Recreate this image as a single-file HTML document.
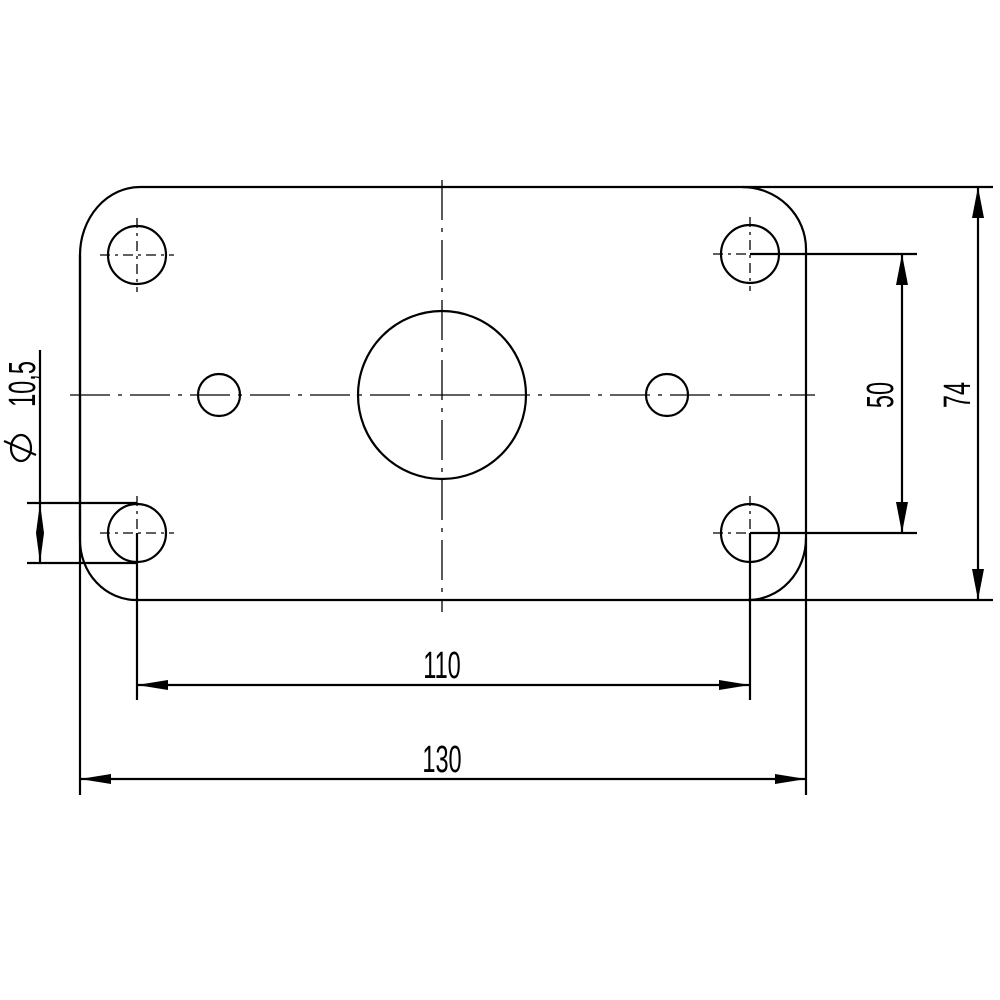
<!DOCTYPE html>
<html><head><meta charset="utf-8"><style>html,body{margin:0;padding:0;background:#fff}svg{display:block}</style></head>
<body>
<svg width="1000" height="1000" viewBox="0 0 1000 1000" xmlns="http://www.w3.org/2000/svg">
<g fill="none" stroke="#000" stroke-width="2.2">
<!-- plate outline -->
<path d="M140,187 L742,187 A64,62 0 0 1 806,249 L806,538 A58,62 0 0 1 748,600 L136,600 A56,60 0 0 1 80,540 L80,255 A60,68 0 0 1 140,187"/>
<line x1="80" y1="255" x2="80" y2="795"/>
<line x1="806" y1="538" x2="806" y2="795"/>
<!-- holes -->
<circle cx="137" cy="255" r="29"/>
<circle cx="750" cy="254" r="29"/>
<circle cx="137" cy="533" r="29"/>
<circle cx="750" cy="533" r="29"/>
<circle cx="219" cy="395" r="21"/>
<circle cx="667" cy="395" r="21"/>
<circle cx="442" cy="395" r="84"/>
<!-- extension lines -->
<line x1="742" y1="187" x2="993" y2="187"/>
<line x1="748" y1="600" x2="993" y2="600"/>
<line x1="750" y1="254" x2="917" y2="254"/>
<line x1="750" y1="533" x2="917" y2="533"/>
<line x1="137" y1="533" x2="137" y2="700"/>
<line x1="750" y1="533" x2="750" y2="700"/>
<line x1="27" y1="503" x2="137" y2="503"/>
<line x1="27" y1="563" x2="137" y2="563"/>
<!-- dimension lines -->
<line x1="978" y1="187" x2="978" y2="600"/>
<line x1="902" y1="254" x2="902" y2="533"/>
<line x1="137" y1="685" x2="750" y2="685"/>
<line x1="80" y1="779" x2="806" y2="779"/>
<line x1="40" y1="350" x2="40" y2="563"/>
</g>
<g stroke="#000" stroke-width="1.3" fill="none">
<!-- centerlines -->
<line x1="70" y1="395" x2="815" y2="395" stroke-dasharray="40,8,4,8"/>
<line x1="442" y1="180" x2="442" y2="612" stroke-dasharray="40,8,4,8"/>
<g stroke-dasharray="10,5,3,5">
<line x1="100" y1="255" x2="174" y2="255"/><line x1="137" y1="218" x2="137" y2="292"/>
<line x1="713" y1="254" x2="787" y2="254"/><line x1="750" y1="217" x2="750" y2="291"/>
<line x1="100" y1="533" x2="174" y2="533"/><line x1="137" y1="496" x2="137" y2="533"/>
<line x1="713" y1="533" x2="787" y2="533"/><line x1="750" y1="496" x2="750" y2="533"/>
</g>
</g>
<!-- arrowheads -->
<g fill="#000">
<polygon points="978,187 972,218 984,218"/>
<polygon points="978,600 972,569 984,569"/>
<polygon points="902,254 896,285 908,285"/>
<polygon points="902,533 896,502 908,502"/>
<polygon points="137,685 168,680 168,690"/>
<polygon points="750,685 719,680 719,690"/>
<polygon points="80,779 111,774 111,784"/>
<polygon points="806,779 775,774 775,784"/>
<polygon points="40,503 36,533 40,563 44,533"/>
</g>
<!-- text -->
<g font-family="Liberation Sans, sans-serif" font-size="38" fill="#000">
<text transform="translate(442,678) scale(0.62,1)" text-anchor="middle">110</text>
<text transform="translate(442,772) scale(0.62,1)" text-anchor="middle">130</text>
<text transform="translate(893,395) rotate(-90) scale(0.62,1)" text-anchor="middle">50</text>
<text transform="translate(970,395) rotate(-90) scale(0.62,1)" text-anchor="middle">74</text>
<text transform="translate(35,384) rotate(-90) scale(0.62,1)" text-anchor="middle">10,5</text>
</g>
<g fill="none" stroke="#000" stroke-width="2.2">
<ellipse cx="21" cy="448" rx="10" ry="13"/>
<line x1="4" y1="441" x2="36" y2="455"/>
</g>
</svg>
</body></html>
